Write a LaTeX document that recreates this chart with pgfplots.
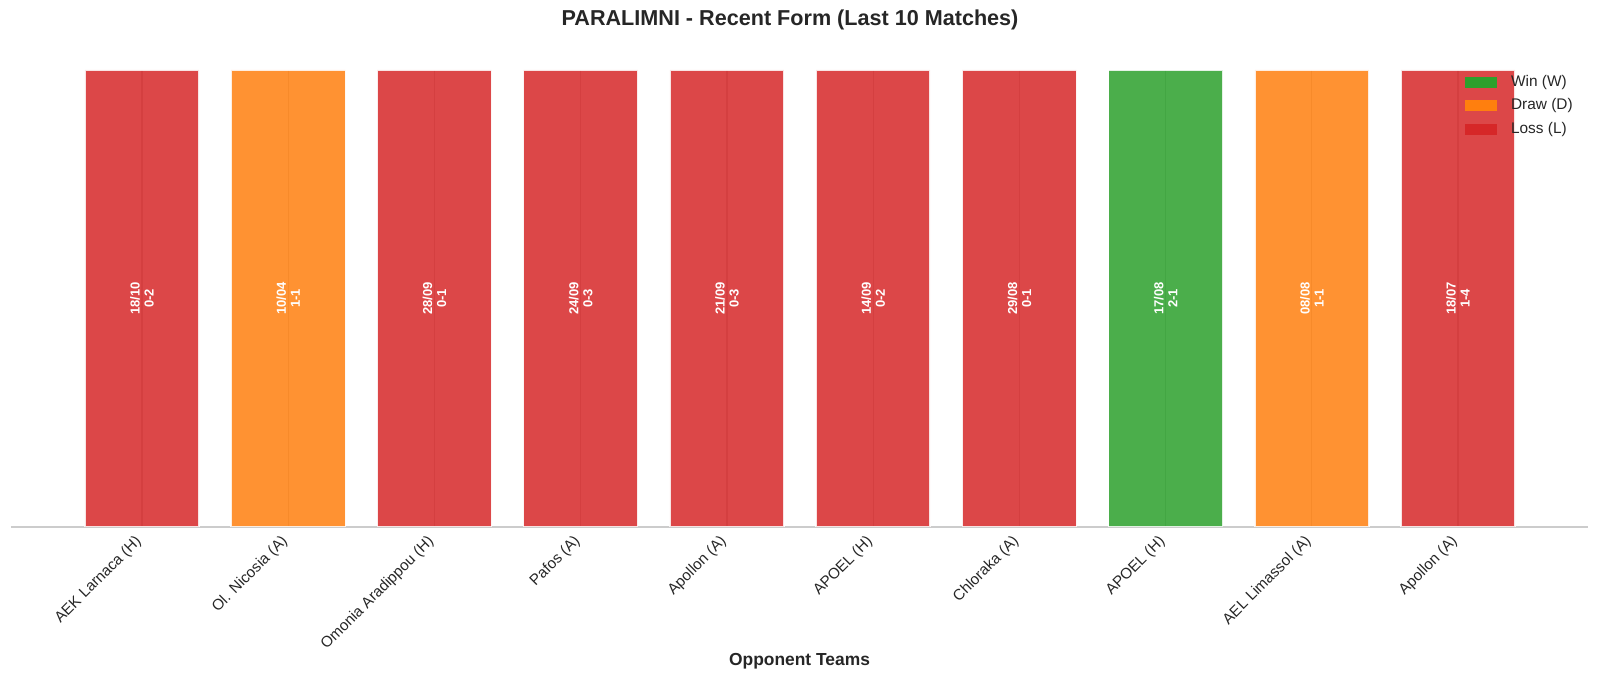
\documentclass[border=0pt]{standalone}
\usepackage{fontspec}
\setmainfont{Liberation Sans}
\usepackage{pgfplots}
\pgfplotsset{compat=1.18}

\definecolor{winc}{HTML}{2CA02C}
\definecolor{drawc}{HTML}{FF7F0E}
\definecolor{lossc}{HTML}{D62728}
\definecolor{txt}{HTML}{262626}
\definecolor{gridc}{HTML}{CCCCCC}

\begin{document}
\begin{tikzpicture}
\begin{axis}[
    scale only axis,
    width=788.5pt, height=228.5pt,
    xmin=-0.896, xmax=9.889,
    ymin=0, ymax=1,
    axis x line*=bottom,
    hide y axis,
    x axis line style={color=gridc, line width=0.6pt},
    xtick={0,...,9},
    xticklabels={AEK Larnaca (H), Ol. Nicosia (A), Omonia Aradippou (H), Pafos (A), Apollon (A), APOEL (H), Chloraka (A), APOEL (H), AEL Limassol (A), Apollon (A)},
    xticklabel style={xshift=-4pt, yshift=-2pt, rotate=45, anchor=north east, font=\fontsize{7.6}{9}\selectfont, text=txt, inner sep=1pt},
    major tick length=0pt,
    xmajorgrids,
    grid style={color=gridc, line width=0.6pt},
    xlabel={\textbf{Opponent Teams}},
    every axis x label/.style={at={(rel axis cs:0.5,0)}, anchor=center, yshift=-67pt, font=\fontsize{8.7}{10}\selectfont, text=txt},
    title={\textbf{PARALIMNI - Recent Form (Last 10 Matches)}},
    every axis title/.style={at={(rel axis cs:0.494,1)}, anchor=center, yshift=25pt, font=\fontsize{10.8}{12}\selectfont, text=txt},
    legend style={draw=none, fill=none, at={(rel axis cs:0.918,0.998)}, anchor=north west,
        font=\fontsize{7.7}{9}\selectfont, text=txt, row sep=4.5pt, column sep=7pt,
        nodes={inner sep=0pt, text height=5.6pt, text depth=1.6pt}},
    legend cell align=left,
    legend image code/.code={\fill[draw=none, #1] (0pt,-2.75pt) rectangle (16pt,2.75pt);},
    legend columns=1,
]
% bars, one series per result
\addplot[ybar, bar width=0.78, bar shift=0pt, fill=lossc, fill opacity=0.85, draw=white, draw opacity=0.85, line width=0.75pt, forget plot]
    coordinates {(0,1) (2,1) (3,1) (4,1) (5,1) (6,1) (9,1)};
\addplot[ybar, bar width=0.78, bar shift=0pt, fill=drawc, fill opacity=0.85, draw=white, draw opacity=0.85, line width=0.75pt, forget plot]
    coordinates {(1,1) (8,1)};
\addplot[ybar, bar width=0.78, bar shift=0pt, fill=winc, fill opacity=0.85, draw=white, draw opacity=0.85, line width=0.75pt, forget plot]
    coordinates {(7,1)};
% date and score in each bar
\addplot[draw=none, mark=none, forget plot, point meta=explicit symbolic,
    nodes near coords,
    every node near coord/.append style={anchor=center, rotate=90, align=center, text=white,
        font=\fontsize{6.5}{7}\selectfont\bfseries, inner sep=0pt}]
    coordinates {
    (0,0.5) [{18/10\\0-2}]
    (1,0.5) [{10/04\\1-1}]
    (2,0.5) [{28/09\\0-1}]
    (3,0.5) [{24/09\\0-3}]
    (4,0.5) [{21/09\\0-3}]
    (5,0.5) [{14/09\\0-2}]
    (6,0.5) [{29/08\\0-1}]
    (7,0.5) [{17/08\\2-1}]
    (8,0.5) [{08/08\\1-1}]
    (9,0.5) [{18/07\\1-4}]
    };
\addlegendimage{fill=winc, draw=none}
\addlegendentry{Win (W)}
\addlegendimage{fill=drawc, draw=none}
\addlegendentry{Draw (D)}
\addlegendimage{fill=lossc, draw=none}
\addlegendentry{Loss (L)}
\end{axis}
\pgfresetboundingbox
\path (current axis.south west) ++(-5.5pt,-76pt) rectangle ++(800pt,339.5pt);
\end{tikzpicture}
\end{document}
